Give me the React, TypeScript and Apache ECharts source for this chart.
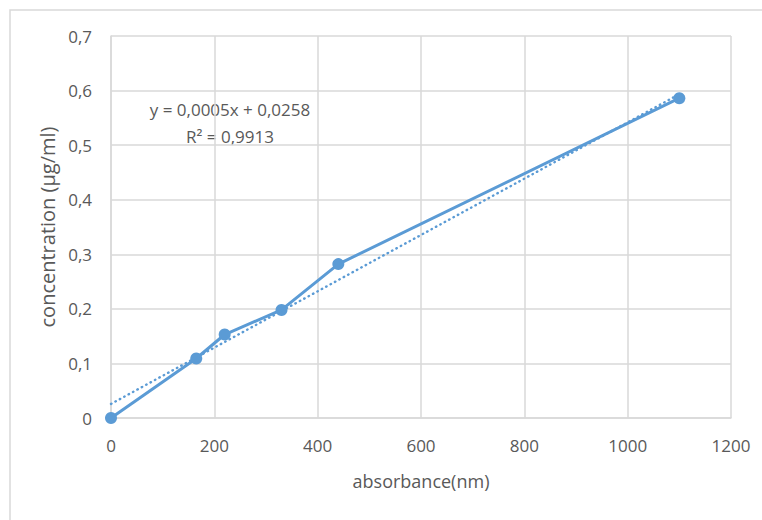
import React, { useEffect, useRef } from "react";
import * as echarts from "echarts";

// Measured calibration points
const absorbance = [0, 165, 220, 330, 440, 1100];
const concentration = [0, 0.109, 0.153, 0.198, 0.282, 0.586];

// Linear trendline: [slope, intercept] and its fit quality
const trendCoeffs = [0.000516, 0.0258];
const rSquared = 0.9913;

// Axis ranges
const xRange = [0, 1200, 200];
const yRange = [0, 0.7, 0.1];

const FONT = "'Open Sans', sans-serif";
const TEXT = "#595959";
const GRID = "#d9d9d9";
const BLUE = "#5b9bd5";

const comma = (v: number, digits: number) => v.toFixed(digits).replace(".", ",");

export default function App() {
  const ref = useRef<HTMLDivElement>(null);

  useEffect(() => {
    document.body.style.margin = "0";
    if (!ref.current) return;
    const chart = echarts.init(ref.current, undefined, { renderer: "svg" });

    const [slope, intercept] = trendCoeffs;
    const xStart = absorbance[0];
    const xEnd = absorbance[absorbance.length - 1];
    const trend = [
      [xStart, slope * xStart + intercept],
      [xEnd, slope * xEnd + intercept],
    ];

    const equation = `y = ${comma(slope, 4)}x + ${comma(intercept, 4)}`;
    const r2 = `R² = ${comma(rSquared, 4)}`;

    chart.setOption({
      animation: false,
      backgroundColor: "#ffffff",
      grid: { left: 111, top: 36, right: 31, bottom: 102 },
      xAxis: {
        type: "value",
        min: xRange[0],
        max: xRange[1],
        interval: xRange[2],
        name: "absorbance(nm)",
        nameLocation: "middle",
        nameGap: 54,
        nameTextStyle: { fontFamily: FONT, fontSize: 18, color: TEXT },
        axisLine: { show: true, lineStyle: { color: GRID, width: 1.5 } },
        axisTick: { show: false },
        axisLabel: {
          fontFamily: FONT,
          fontSize: 17,
          color: TEXT,
          margin: 19,
          formatter: (v: number) => String(v),
        },
        splitLine: { show: true, lineStyle: { color: GRID, width: 1.5 } },
      },
      yAxis: {
        type: "value",
        min: yRange[0],
        max: yRange[1],
        interval: yRange[2],
        name: "concentration (µg/ml)",
        nameLocation: "middle",
        nameGap: 50,
        nameTextStyle: { fontFamily: FONT, fontSize: 20, color: TEXT },
        axisLine: { show: true, lineStyle: { color: GRID, width: 1.5 } },
        axisTick: { show: false },
        axisLabel: {
          fontFamily: FONT,
          fontSize: 17,
          color: TEXT,
          margin: 19,
          formatter: (v: number) => (v === 0 ? "0" : comma(v, 1)),
        },
        splitLine: { show: true, lineStyle: { color: GRID, width: 1.5 } },
      },
      series: [
        {
          name: "concentration",
          type: "line",
          data: absorbance.map((x, i) => [x, concentration[i]]),
          symbol: "circle",
          symbolSize: 12,
          itemStyle: { color: BLUE },
          lineStyle: { color: BLUE, width: 3 },
          z: 2,
        },
        {
          name: "trend",
          type: "line",
          data: trend,
          symbol: "none",
          lineStyle: { color: BLUE, width: 2.4, type: [0.5, 4.5], cap: "round" },
          z: 3,
        },
      ],
      graphic: [
        {
          type: "rect",
          shape: { x: 10, y: 10, width: 900, height: 700 },
          style: { fill: "none", stroke: GRID, lineWidth: 1.5 },
          silent: true,
          z: -1,
        },
        {
          type: "text",
          x: 230,
          y: 109,
          style: {
            text: equation,
            fontFamily: FONT,
            fontSize: 17,
            fill: TEXT,
            align: "center",
            verticalAlign: "middle",
          },
        },
        {
          type: "text",
          x: 230,
          y: 136,
          style: {
            text: r2,
            fontFamily: FONT,
            fontSize: 17,
            fill: TEXT,
            align: "center",
            verticalAlign: "middle",
          },
        },
      ],
    });

    return () => chart.dispose();
  }, []);

  return <div ref={ref} style={{ width: 762, height: 520 }} />;
}
